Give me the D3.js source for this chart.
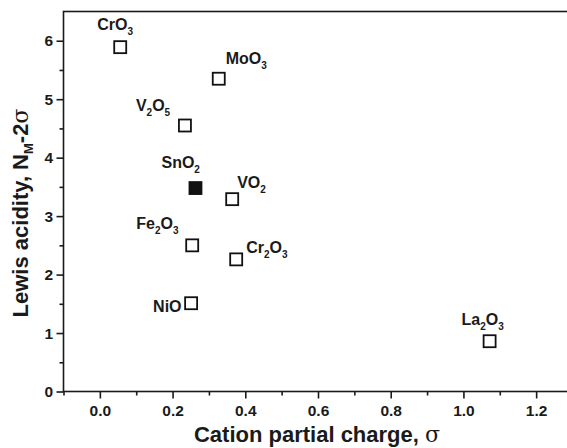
<!DOCTYPE html>
<html>
<head>
<meta charset="utf-8">
<script src="https://cdn.jsdelivr.net/npm/d3@7"></script>
<style>
  body { margin: 0; background: #fff; }
  text { font-family: "Liberation Sans", Arial, sans-serif; font-weight: bold; fill: #1a1a1a; }
</style>
</head>
<body>
<div id="chart"></div>
<script>
// oxide data: cation partial charge vs Lewis acidity
const names = ["CrO3", "MoO3", "V2O5", "SnO2", "VO2", "Fe2O3", "Cr2O3", "NiO", "La2O3"];
const sigma = [0.056, 0.327, 0.234, 0.263, 0.364, 0.254, 0.375, 0.251, 1.072];
const acidity = [5.89, 5.35, 4.55, 3.48, 3.29, 2.50, 2.26, 1.51, 0.86];
const filled = ["SnO2"];
const xTicks = [0.0, 0.2, 0.4, 0.6, 0.8, 1.0, 1.2];
const yTicks = [0, 1, 2, 3, 4, 5, 6];

// label offsets from the point (px)
const labelPos = {
    CrO3: [-23, -17], MoO3: [7, -15], V2O5: [-49, -15], SnO2: [-34, -20],
    VO2: [5, -11], Fe2O3: [-56, -16], Cr2O3: [10, -6], NiO: [-38, 9], La2O3: [-28, -16]
};

function main() {
    let width = 567, height = 448;
    let svg = d3.select("#chart").append("svg")
        .attr("width", width)
        .attr("height", height);

    let xScale = d3.scaleLinear().domain([-0.1, 1.3]).range([63.5, 572.5]);
    let yScale = d3.scaleLinear().domain([0, 6.5]).range([391.5, 11.5]);

    // frame
    svg.append("rect")
        .attr("x", xScale(-0.1))
        .attr("y", yScale(6.5))
        .attr("width", xScale(1.3) - xScale(-0.1))
        .attr("height", yScale(0) - yScale(6.5))
        .attr("fill", "none")
        .attr("stroke", "#1a1a1a")
        .attr("stroke-width", 1.6);

    // minor ticks
    svg.append("g")
        .attr("transform", "translate(0," + yScale(0) + ")")
        .call(d3.axisBottom(xScale).tickValues(d3.range(-0.1, 1.31, 0.2)).tickSize(4).tickFormat(""))
        .call(g => g.select(".domain").remove())
        .selectAll("line").attr("stroke-width", 1.6).attr("stroke", "#1a1a1a");
    svg.append("g")
        .attr("transform", "translate(" + xScale(-0.1) + ",0)")
        .call(d3.axisLeft(yScale).tickValues(d3.range(0.5, 6.5, 1)).tickSize(4).tickFormat(""))
        .call(g => g.select(".domain").remove())
        .selectAll("line").attr("stroke-width", 1.6).attr("stroke", "#1a1a1a");

    // major ticks
    let xAxis = svg.append("g")
        .attr("transform", "translate(0," + yScale(0) + ")")
        .call(d3.axisBottom(xScale).tickValues(xTicks).tickSize(7).tickPadding(6).tickFormat(d3.format(".1f")));
    xAxis.select(".domain").remove();
    xAxis.selectAll("line").attr("stroke-width", 1.6).attr("stroke", "#1a1a1a");
    xAxis.selectAll("text").attr("font-size", 15.5).attr("font-family", null).attr("fill", null);

    let yAxis = svg.append("g")
        .attr("transform", "translate(" + xScale(-0.1) + ",0)")
        .call(d3.axisLeft(yScale).tickValues(yTicks).tickSize(7).tickPadding(3.5).tickFormat(d3.format("d")));
    yAxis.select(".domain").remove();
    yAxis.selectAll("line").attr("stroke-width", 1.6).attr("stroke", "#1a1a1a");
    yAxis.selectAll("text").attr("font-size", 15.5).attr("font-family", null).attr("fill", null);

    // axis titles
    let xt = svg.append("text")
        .attr("x", 317)
        .attr("y", 442)
        .attr("text-anchor", "middle")
        .attr("font-size", 22);
    xt.append("tspan").text("Cation partial charge, ");
    xt.append("tspan").attr("font-family", "DejaVu Serif").attr("font-weight", "normal").text("σ");

    let yt = svg.append("text")
        .attr("transform", "translate(28,213) rotate(-90)")
        .attr("text-anchor", "middle")
        .attr("font-size", 22);
    yt.append("tspan").text("Lewis acidity, N");
    yt.append("tspan").attr("font-size", 13).attr("dy", 5).text("M");
    yt.append("tspan").attr("dy", -5).text("-2");
    yt.append("tspan").attr("font-family", "DejaVu Serif").attr("font-weight", "normal").text("σ");

    const data = names.map(function(n, i) {
        return {name: n, x: sigma[i], y: acidity[i]};
    });

    // markers
    svg.append("g")
        .selectAll("rect")
        .data(data)
        .enter()
        .append("rect")
        .attr("x", d => xScale(d.x) - 6)
        .attr("y", d => yScale(d.y) - 6)
        .attr("width", 12)
        .attr("height", 12)
        .attr("fill", d => filled.includes(d.name) ? "#111" : "#fff")
        .attr("stroke", "#111")
        .attr("stroke-width", 1.8);

    // labels with subscripts
    data.forEach(function(d) {
        let off = labelPos[d.name];
        let t = svg.append("text")
            .attr("x", xScale(d.x) + off[0])
            .attr("y", yScale(d.y) + off[1])
            .attr("font-size", 16);
        let parts = d.name.match(/[A-Za-z]+|\d/g);
        let sub = false;
        parts.forEach(function(p) {
            if (/\d/.test(p)) {
                t.append("tspan").attr("font-size", 10).attr("dy", 5).text(p);
                sub = true;
            } else {
                t.append("tspan").attr("dy", sub ? -5 : 0).text(p);
                sub = false;
            }
        });
    });
}

main();
</script>
</body>
</html>
